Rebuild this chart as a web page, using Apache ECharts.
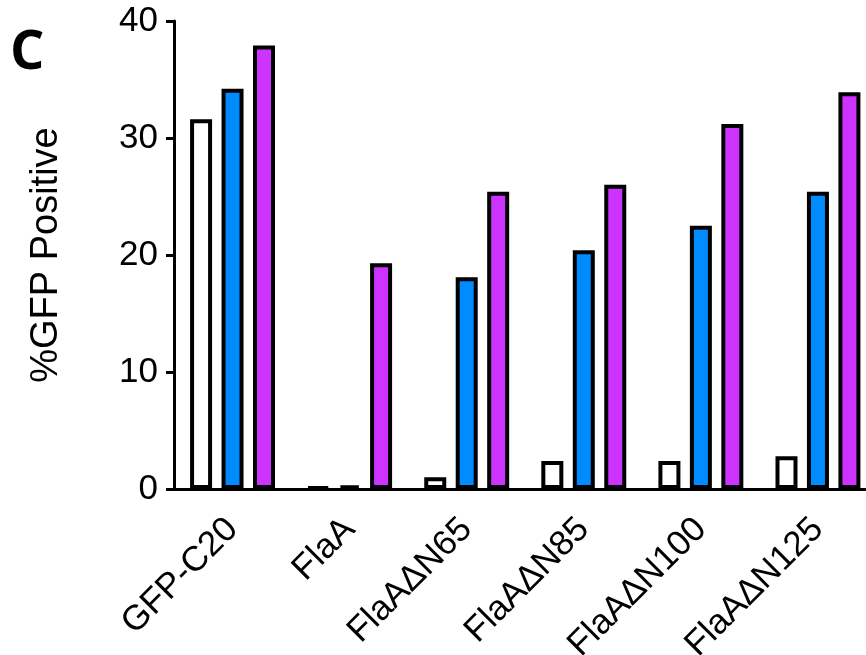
<!DOCTYPE html>
<html>
<head>
<meta charset="utf-8">
<script src="https://cdn.jsdelivr.net/npm/echarts@6/dist/echarts.min.js"></script>
<style>html,body{margin:0;padding:0;background:#fff}#c{width:866px;height:655px}</style>
</head>
<body>
<div id="c"></div>
<script>
const categories = ['GFP-C20', 'FlaA', 'FlaAΔN65', 'FlaAΔN85', 'FlaAΔN100', 'FlaAΔN125'];
const whiteVals  = [31.6, 0.15, 1.0, 2.4, 2.4, 2.8];
const blueVals   = [34.2, 0.3, 18.1, 20.4, 22.5, 25.4];
const purpleVals = [37.9, 19.3, 25.4, 26.0, 31.2, 33.9];
const yTicks = [0, 10, 20, 30, 40];

const chart = echarts.init(document.getElementById('c'), null, {renderer: 'canvas'});
const FONT = 'Liberation Sans';
function barSeries(name, data, color) {
  return {
    name, type: 'bar', data,
    barWidth: 22, barGap: '43%',
    itemStyle: {color, borderColor: '#000', borderWidth: 4},
    animation: false
  };
}
chart.setOption({
  animation: false,
  backgroundColor: '#fff',
  grid: {left: 174, top: 21, bottom: 166, right: -10.5, containLabel: false, outerBoundsMode: 'none'},
  graphic: [{
    type: 'text', left: 10, top: 27,
    style: {text: 'C', font: 'bold 54px "Open Sans"', fill: '#000'}
  }],
  xAxis: {
    type: 'category', data: categories,
    axisLine: {lineStyle: {color: '#000', width: 3}},
    axisTick: {alignWithLabel: true, length: 8, lineStyle: {color: '#000', width: 3}},
    axisLabel: {rotate: 45, margin: 35, color: '#000', fontSize: 35, fontFamily: FONT, interval: 0}
  },
  yAxis: {
    type: 'value', min: yTicks[0], max: yTicks[yTicks.length - 1], interval: 10,
    name: '%GFP Positive', nameLocation: 'middle', nameRotate: 90, nameGap: 108,
    nameTextStyle: {color: '#000', fontSize: 38, fontFamily: FONT},
    splitLine: {show: false},
    axisLine: {show: true, lineStyle: {color: '#000', width: 3}},
    axisTick: {show: true, length: 8, lineStyle: {color: '#000', width: 3}},
    axisLabel: {margin: 16, color: '#000', fontSize: 35, fontFamily: FONT}
  },
  series: [
    barSeries('white', whiteVals, '#ffffff'),
    barSeries('blue', blueVals, '#008cff'),
    barSeries('purple', purpleVals, '#cc33ff')
  ]
});
</script>
</body>
</html>
